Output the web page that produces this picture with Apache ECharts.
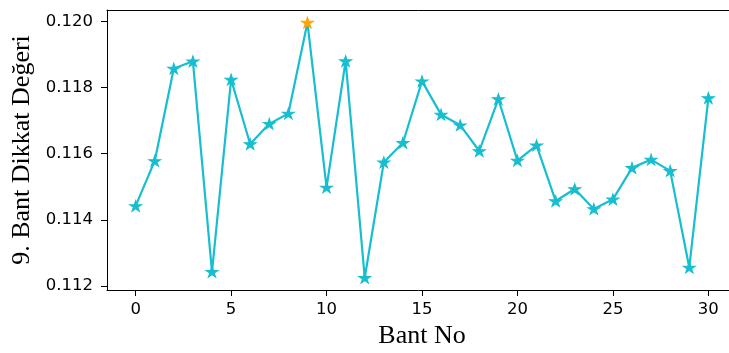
<!DOCTYPE html>
<html>
<head>
<meta charset="utf-8">
<script src="https://cdn.jsdelivr.net/npm/echarts@6/dist/echarts.min.js"></script>
<style>
html,body{margin:0;padding:0;background:#fff;}
#c{width:729px;height:353px;}
</style>
</head>
<body>
<div id="c"></div>
<script>
const bandNo = [0,1,2,3,4,5,6,7,8,9,10,11,12,13,14,15,16,17,18,19,20,21,22,23,24,25,26,27,28,29,30];
const attention = [0.11442,0.11578,0.11857,0.11879,0.11243,0.11824,0.11629,0.11690,0.11721,0.11996,0.11498,
  0.11880,0.11225,0.11574,0.11633,0.11819,0.11718,0.11686,0.11608,0.11765,0.11579,0.11625,
  0.11457,0.11493,0.11433,0.11462,0.11557,0.11582,0.11548,0.11256,0.11768];
const highlightIndex = 9;
const xTicks = [0,5,10,15,20,25,30];
const yTicks = [0.112,0.114,0.116,0.118,0.120];

const lineColor = '#17becf';
const hiColor = '#ffa500';
const star = 'path://M100,0 L122.45,69.1 L195.1,69.1 L136.3,111.8 L158.8,180.9 L100,138.2 L41.2,180.9 L63.7,111.8 L4.9,69.1 L77.55,69.1 Z';

const data = bandNo.map((b,i)=>{
  const item = {value:[b, attention[i]]};
  if (i === highlightIndex) item.itemStyle = {color: hiColor, borderColor: hiColor};
  return item;
});

const chart = echarts.init(document.getElementById('c'));
chart.setOption({
  animation:false,
  grid:{left:107, top:10, width:630, height:280, show:false, outerBoundsMode:'none', containLabel:false},
  xAxis:[{
    type:'value', min:-1.5, max:31.5,
    name:'Bant No', nameLocation:'middle', nameGap:30,
    nameTextStyle:{fontFamily:'Liberation Serif', fontSize:26, color:'#000'},
    splitLine:{show:false},
    axisLine:{onZero:false, lineStyle:{color:'#000', width:1}},
    axisTick:{customValues:xTicks, length:6, lineStyle:{color:'#000', width:1}},
    axisLabel:{customValues:xTicks, fontFamily:'DejaVu Sans', fontSize:16.5, color:'#000', margin:11}
  },{
    type:'value', min:-1.5, max:31.5, position:'top',
    splitLine:{show:false},
    axisLine:{show:true, onZero:false, lineStyle:{color:'#000', width:1}},
    axisTick:{show:false}, axisLabel:{show:false}
  }],
  yAxis:{
    type:'value', min:0.11188, max:0.12034,
    name:'9. Bant Dikkat Değeri', nameLocation:'middle', nameGap:72,
    nameTextStyle:{fontFamily:'Liberation Serif', fontSize:26, color:'#000'},
    splitLine:{show:false},
    axisLine:{show:true, onZero:false, lineStyle:{color:'#000', width:1}},
    axisTick:{customValues:yTicks, length:6, lineStyle:{color:'#000', width:1}},
    axisLabel:{customValues:yTicks, fontFamily:'DejaVu Sans', fontSize:16.5, color:'#000', margin:14,
      formatter:v=>v.toFixed(3)}
  },
  series:[{
    type:'line', data:data, xAxisIndex:0,
    lineStyle:{color:lineColor, width:2.2},
    itemStyle:{color:lineColor, borderColor:lineColor, borderWidth:1},
    symbol:star, symbolSize:[12,11.4], symbolKeepAspect:true,
    showAllSymbol:true,
    emphasis:{disabled:true}
  }]
});
</script>
</body>
</html>
